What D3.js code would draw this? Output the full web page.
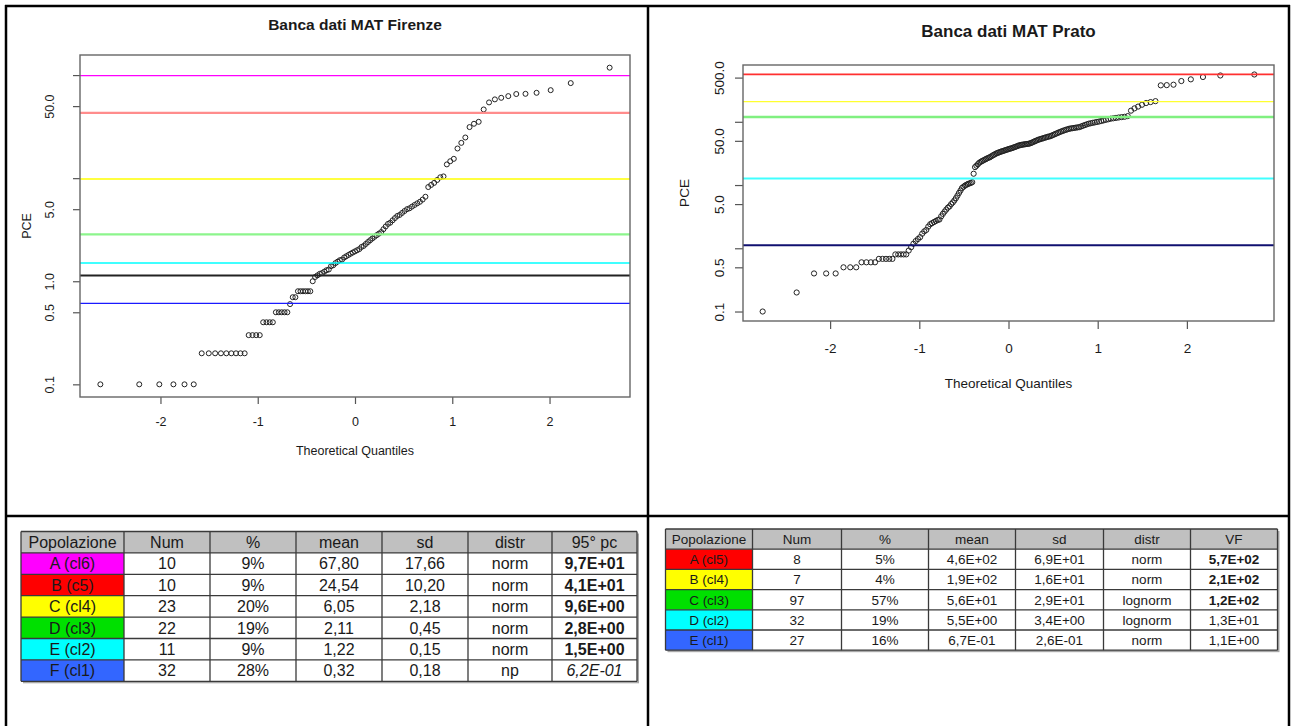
<!DOCTYPE html>
<html>
<head>
<meta charset="utf-8">
<script src="https://cdn.jsdelivr.net/npm/d3@7"></script>
<style>
  body { margin: 0; background: #fff; }
  svg { display: block; }
  text { font-family: "Liberation Sans", Arial, sans-serif; fill: #1a1a1a; }
</style>
</head>
<body>
<svg id="chart" width="1292" height="726"></svg>
<script>
// ---- data ----

// PCE samples, Firenze (sorted, 113 values)
const firenzePce = [
  0.1, 0.1, 0.1, 0.1, 0.1, 0.1,
  0.2, 0.2, 0.2, 0.2, 0.2, 0.2, 0.2, 0.2, 0.2,
  0.3, 0.3, 0.3, 0.3,
  0.4, 0.4, 0.4, 0.4,
  0.5, 0.5, 0.5, 0.5, 0.5,
  0.6, 0.7, 0.7,
  0.8, 0.8, 0.8, 0.8, 0.8, 0.8,
  1.0,
  1.10, 1.14, 1.18, 1.2, 1.24, 1.28, 1.3, 1.4, 1.43, 1.5,
  1.55, 1.6, 1.62, 1.7, 1.75, 1.8, 1.85, 1.9, 1.95, 2.0,
  2.05, 2.15, 2.2, 2.3, 2.4, 2.5, 2.6, 2.7, 2.8, 2.9,
  3.0, 3.2, 3.4, 3.6, 3.7, 3.9, 4.1, 4.3, 4.4, 4.6,
  4.8, 5.0, 5.1, 5.3, 5.5, 5.7, 5.9, 6.2, 6.6,
  8.2, 8.6, 9.0, 9.6, 10.2, 10.4,
  13.6, 14.6, 15.4, 19.4, 22.0, 24.8,
  31.3, 33.7, 35.2, 46.4,
  54.3, 58.1, 60.2, 62.5, 65.5, 65.8, 67.3, 71.4, 83.6, 118
];

// PCE samples, Prato (sorted, 171 values)
const pratoPce = [
  // E (cl1)
  0.1, 0.2, 0.4, 0.4, 0.4, 0.5, 0.5, 0.5, 0.6, 0.6, 0.6, 0.6,
  0.68, 0.68, 0.68, 0.68, 0.68, 0.8, 0.8, 0.8, 0.8, 0.8,
  0.92, 1.04, 1.18, 1.3, 1.4,
  // D (cl2)
  1.5, 1.7, 1.85, 1.95, 2.2, 2.4, 2.5, 2.6, 2.7, 2.8, 2.85, 3.2,
  3.5, 3.8, 4.1, 4.4, 4.6, 5.0, 5.3, 5.7, 6.2, 6.8, 7.5, 8.2,
  9.0, 9.4, 9.8, 10.1, 10.4, 10.6, 10.8, 11.1,
  // C (cl3)
  15.1, 19.2, 20.2, 21.3, 22.5, 23.2, 23.9, 24.5, 25.2, 25.8,
  26.5, 27.1, 27.6, 28.5, 29.4, 30.2, 31.0, 31.8, 32.4, 33.0,
  33.6, 34.1, 34.7, 35.2, 35.8, 36.4, 37.0, 37.5, 38.0, 38.6,
  39.3, 40.0, 40.8, 41.5, 42.3, 42.8, 43.2, 43.6, 44.0, 44.3,
  44.6, 44.9, 45.3, 46.2, 47.2, 48.3, 49.4, 50.5, 51.6, 52.6,
  53.4, 54.2, 55.1, 56.0, 56.9, 57.8, 58.6, 59.4, 60.8, 62.3,
  63.8, 65.4, 67.0, 68.7, 70.2, 71.7, 73.2, 74.7, 76.1, 77.6,
  78.4, 79.2, 80.0, 80.8, 81.6, 82.4, 84.5, 86.7, 88.9, 91.1,
  93.3, 94.8, 96.3, 97.8, 99.4, 101, 103, 105.2, 107.5, 109.7,
  112, 113.6, 115.3, 117, 118.6, 120, 123,
  // B (cl4)
  150, 163, 174, 186, 198, 205, 212,
  // A (cl5)
  377, 380, 386, 441, 469, 511, 540, 560
];

// horizontal threshold lines
const firenzeLimits = [99, 43, 9.8, 2.85, 1.5, 1.14, 0.61];
const firenzeLimitColors = ["#ff00ff", "#ff8c8c", "#ffff00", "#8cf58c", "#00ffff", "#222222", "#1a1aff"];
const firenzeLimitWidths = [1.3, 2.2, 1.6, 2.4, 1.5, 2, 1.2];

const pratoLimits = [563, 208, 119, 12.7, 1.12];
const pratoLimitColors = ["#ff3030", "#ffff30", "#80f080", "#40ffff", "#101070"];
const pratoLimitWidths = [1.6, 1.3, 2.4, 2, 2];

// axis ticks
const xTicks = [-2, -1, 0, 1, 2];
const firenzeYTicks = [0.1, 0.5, 1, 5, 10, 50, 100];
const firenzeYLabelled = [0.1, 0.5, 1, 5, 50];
const pratoYTicks = [0.1, 0.5, 1, 5, 10, 50, 100, 500];
const pratoYLabelled = [0.1, 0.5, 5, 50, 500];

// tables
const firenzeHeader = ["Popolazione", "Num", "%", "mean", "sd", "distr", "95° pc"];
const firenzeClasses = ["A (cl6)", "B (c5)", "C (cl4)", "D (cl3)", "E (cl2)", "F (cl1)"];
const firenzeClassColors = ["#ff00ff", "#ff0000", "#ffff00", "#00e000", "#00ffff", "#3366ff"];
const firenzeNum = ["10", "10", "23", "22", "11", "32"];
const firenzePct = ["9%", "9%", "20%", "19%", "9%", "28%"];
const firenzeMean = ["67,80", "24,54", "6,05", "2,11", "1,22", "0,32"];
const firenzeSd = ["17,66", "10,20", "2,18", "0,45", "0,15", "0,18"];
const firenzeDistr = ["norm", "norm", "norm", "norm", "norm", "np"];
const firenzeP95 = ["9,7E+01", "4,1E+01", "9,6E+00", "2,8E+00", "1,5E+00", "6,2E-01"];
const firenzeLastStyle = ["bold", "bold", "bold", "bold", "bold", "italic"];

const pratoHeader = ["Popolazione", "Num", "%", "mean", "sd", "distr", "VF"];
const pratoClasses = ["A (cl5)", "B (cl4)", "C (cl3)", "D (cl2)", "E (cl1)"];
const pratoClassColors = ["#ff0000", "#ffff00", "#00e000", "#00ffff", "#3366ff"];
const pratoNum = ["8", "7", "97", "32", "27"];
const pratoPct = ["5%", "4%", "57%", "19%", "16%"];
const pratoMean = ["4,6E+02", "1,9E+02", "5,6E+01", "5,5E+00", "6,7E-01"];
const pratoSd = ["6,9E+01", "1,6E+01", "2,9E+01", "3,4E+00", "2,6E-01"];
const pratoDistr = ["norm", "norm", "lognorm", "lognorm", "norm"];
const pratoVF = ["5,7E+02", "2,1E+02", "1,2E+02", "1,3E+01", "1,1E+00"];
const pratoLastStyle = ["bold", "bold", "bold", "normal", "normal"];

// ---- helpers ----

// inverse normal cdf (Acklam), used for the theoretical quantiles
function qnorm(p) {
    const a = [-39.69683028665376, 220.9460984245205, -275.9285104469687, 138.3577518672690, -30.66479806614716, 2.506628277459239];
    const b = [-54.47609879822406, 161.5858368580409, -155.6989798598866, 66.80131188771972, -13.28068155288572];
    const c = [-0.007784894002430293, -0.3223964580411365, -2.400758277161838, -2.549732539343734, 4.374664141464968, 2.938163982698783];
    const d = [0.007784695709041462, 0.3224671290700398, 2.445134137142996, 3.754408661907416];
    const lo = 0.02425;
    if (p < lo) {
        const q = Math.sqrt(-2 * Math.log(p));
        return (((((c[0] * q + c[1]) * q + c[2]) * q + c[3]) * q + c[4]) * q + c[5]) /
            ((((d[0] * q + d[1]) * q + d[2]) * q + d[3]) * q + 1);
    }
    if (p > 1 - lo) return -qnorm(1 - p);
    const q = p - 0.5, r = q * q;
    return (((((a[0] * r + a[1]) * r + a[2]) * r + a[3]) * r + a[4]) * r + a[5]) * q /
        (((((b[0] * r + b[1]) * r + b[2]) * r + b[3]) * r + b[4]) * r + 1);
}

const svg = d3.select("#chart");

function drawQQ(cfg) {
    const g = svg.append("g");
    const n = cfg.values.length;
    const pts = cfg.values.slice().sort((a, b) => a - b)
        .map((v, i) => ({ q: qnorm((i + 0.5) / n), v }));

    // R style: data range padded by 4%
    const qExt = d3.extent(pts, d => d.q);
    const qPad = (qExt[1] - qExt[0]) * 0.04;
    const x = d3.scaleLinear().domain([qExt[0] - qPad, qExt[1] + qPad]).range([cfg.left, cfg.right]);
    const lExt = d3.extent(pts, d => Math.log10(d.v));
    const lPad = (lExt[1] - lExt[0]) * 0.04;
    const y = d3.scaleLog().domain([10 ** (lExt[0] - lPad), 10 ** (lExt[1] + lPad)]).range([cfg.bottom, cfg.top]);

    // points
    g.append("g").selectAll("circle").data(pts).join("circle")
        .attr("cx", d => x(d.q))
        .attr("cy", d => y(d.v))
        .attr("r", cfg.r)
        .attr("fill", "none")
        .attr("stroke", "#222")
        .attr("stroke-width", 1);

    // threshold lines (abline after qqnorm, so on top)
    g.append("g").selectAll("line").data(cfg.limits).join("line")
        .attr("x1", cfg.left).attr("x2", cfg.right)
        .attr("y1", d => y(d)).attr("y2", d => y(d))
        .attr("stroke", (d, i) => cfg.limitColors[i])
        .attr("stroke-width", (d, i) => cfg.limitWidths[i]);

    // x axis
    const xAxis = g.append("g")
        .attr("transform", `translate(0,${cfg.bottom})`)
        .call(d3.axisBottom(x).tickValues(xTicks).tickSize(cfg.tick).tickFormat(d => String(d)));
    xAxis.select(".domain").remove();
    xAxis.selectAll(".tick line").attr("stroke", "#555").attr("stroke-width", 1.2);
    xAxis.selectAll(".tick text")
        .attr("y", cfg.xLabY - cfg.bottom).attr("dy", null)
        .attr("font-size", cfg.fs).attr("fill", "#1a1a1a");

    // y axis, labels parallel to the axis
    const yAxis = g.append("g")
        .attr("transform", `translate(${cfg.left},0)`)
        .call(d3.axisLeft(y).tickValues(cfg.yTicks).tickSize(cfg.tick)
            .tickFormat(d => cfg.yLabelled.includes(d) ? d3.format(".1f")(d) : ""));
    yAxis.select(".domain").remove();
    yAxis.selectAll(".tick line").attr("stroke", "#555").attr("stroke-width", 1.2);
    yAxis.selectAll(".tick text")
        .attr("x", null).attr("dy", null)
        .attr("text-anchor", "middle")
        .attr("transform", `translate(${cfg.yLabX - cfg.left},0) rotate(-90)`)
        .attr("font-size", cfg.fs).attr("fill", "#1a1a1a");

    // plot box
    g.append("rect")
        .attr("x", cfg.left).attr("y", cfg.top)
        .attr("width", cfg.right - cfg.left).attr("height", cfg.bottom - cfg.top)
        .attr("fill", "none").attr("stroke", "#666").attr("stroke-width", 1.4);

    // titles
    const cx = (cfg.left + cfg.right) / 2;
    g.append("text").attr("x", cx).attr("y", cfg.titleY)
        .attr("text-anchor", "middle").attr("font-weight", "bold")
        .attr("font-size", cfg.titleFs).text(cfg.title);
    g.append("text").attr("x", cx).attr("y", cfg.xTitleY)
        .attr("text-anchor", "middle").attr("font-size", cfg.fs)
        .text("Theoretical Quantiles");
    g.append("text")
        .attr("transform", `translate(${cfg.yTitleX},${(cfg.top + cfg.bottom) / 2}) rotate(-90)`)
        .attr("text-anchor", "middle").attr("font-size", cfg.fs)
        .text("PCE");
}

function drawTable(cfg) {
    const g = svg.append("g");
    const colX = [cfg.left];
    cfg.colW.forEach(w => colX.push(colX[colX.length - 1] + w));
    const width = colX[colX.length - 1] - cfg.left;
    const nRows = cfg.columns[0].length + 1;
    const height = nRows * cfg.rowH;

    // shadow
    g.append("rect").attr("x", cfg.left + 2).attr("y", cfg.top + 2)
        .attr("width", width).attr("height", height).attr("fill", "#a8a8a8");
    g.append("rect").attr("x", cfg.left).attr("y", cfg.top)
        .attr("width", width).attr("height", height).attr("fill", "#fff");
    g.append("rect").attr("x", cfg.left).attr("y", cfg.top)
        .attr("width", width).attr("height", cfg.rowH).attr("fill", "#c0c0c0");
    g.selectAll(".cls").data(cfg.classColors).join("rect")
        .attr("x", cfg.left).attr("y", (d, i) => cfg.top + (i + 1) * cfg.rowH)
        .attr("width", cfg.colW[0]).attr("height", cfg.rowH)
        .attr("fill", d => d);

    // grid
    d3.range(nRows + 1).forEach(i => {
        g.append("line").attr("x1", cfg.left).attr("x2", cfg.left + width)
            .attr("y1", cfg.top + i * cfg.rowH).attr("y2", cfg.top + i * cfg.rowH)
            .attr("stroke", "#3a3a3a").attr("stroke-width", 1.3);
    });
    colX.forEach(cx => {
        g.append("line").attr("x1", cx).attr("x2", cx)
            .attr("y1", cfg.top).attr("y2", cfg.top + height)
            .attr("stroke", "#3a3a3a").attr("stroke-width", 1.3);
    });

    // text
    cfg.header.forEach((h, j) => {
        g.append("text").attr("x", (colX[j] + colX[j + 1]) / 2)
            .attr("y", cfg.top + cfg.rowH / 2).attr("dy", "0.36em")
            .attr("text-anchor", "middle").attr("font-size", cfg.fs).text(h);
    });
    cfg.columns.forEach((col, j) => {
        col.forEach((v, i) => {
            const last = j === cfg.columns.length - 1;
            const style = last ? cfg.lastStyle[i] : "normal";
            g.append("text").attr("x", (colX[j] + colX[j + 1]) / 2)
                .attr("y", cfg.top + (i + 1.5) * cfg.rowH).attr("dy", "0.36em")
                .attr("text-anchor", "middle").attr("font-size", cfg.fs)
                .attr("font-weight", style === "bold" ? "bold" : "normal")
                .attr("font-style", style === "italic" ? "italic" : "normal")
                .text(v);
        });
    });
}

// ---- page frame ----
const frame = svg.append("g").attr("stroke", "#000").attr("stroke-width", 2.5);
frame.append("line").attr("x1", 5).attr("x2", 1290).attr("y1", 6).attr("y2", 6);
frame.append("line").attr("x1", 5).attr("x2", 1290).attr("y1", 516).attr("y2", 516);
frame.append("line").attr("x1", 6).attr("x2", 6).attr("y1", 5).attr("y2", 726);
frame.append("line").attr("x1", 648).attr("x2", 648).attr("y1", 5).attr("y2", 726);
frame.append("line").attr("x1", 1289).attr("x2", 1289).attr("y1", 5).attr("y2", 726);

// ---- charts ----
drawQQ({
    values: firenzePce, title: "Banca dati MAT Firenze",
    left: 80, right: 630, top: 55, bottom: 397,
    limits: firenzeLimits, limitColors: firenzeLimitColors, limitWidths: firenzeLimitWidths,
    yTicks: firenzeYTicks, yLabelled: firenzeYLabelled,
    r: 2.5, tick: 7, fs: 12.5, titleFs: 15.5,
    titleY: 30, xLabY: 426, xTitleY: 455, yLabX: 54, yTitleX: 31
});

drawQQ({
    values: pratoPce, title: "Banca dati MAT Prato",
    left: 743, right: 1274, top: 65, bottom: 321,
    limits: pratoLimits, limitColors: pratoLimitColors, limitWidths: pratoLimitWidths,
    yTicks: pratoYTicks, yLabelled: pratoYLabelled,
    r: 2.6, tick: 8, fs: 13.5, titleFs: 17,
    titleY: 37, xLabY: 353, xTitleY: 388, yLabX: 724, yTitleX: 689
});

// ---- tables ----
drawTable({
    left: 21, top: 531.5, rowH: 21.4, fs: 16,
    colW: [103, 86, 86, 86, 86, 84, 85],
    header: firenzeHeader, classColors: firenzeClassColors, lastStyle: firenzeLastStyle,
    columns: [firenzeClasses, firenzeNum, firenzePct, firenzeMean, firenzeSd, firenzeDistr, firenzeP95]
});

drawTable({
    left: 665.5, top: 529, rowH: 20.2, fs: 13.5,
    colW: [87, 89, 87, 87, 88, 87, 87],
    header: pratoHeader, classColors: pratoClassColors, lastStyle: pratoLastStyle,
    columns: [pratoClasses, pratoNum, pratoPct, pratoMean, pratoSd, pratoDistr, pratoVF]
});
</script>
</body>
</html>
